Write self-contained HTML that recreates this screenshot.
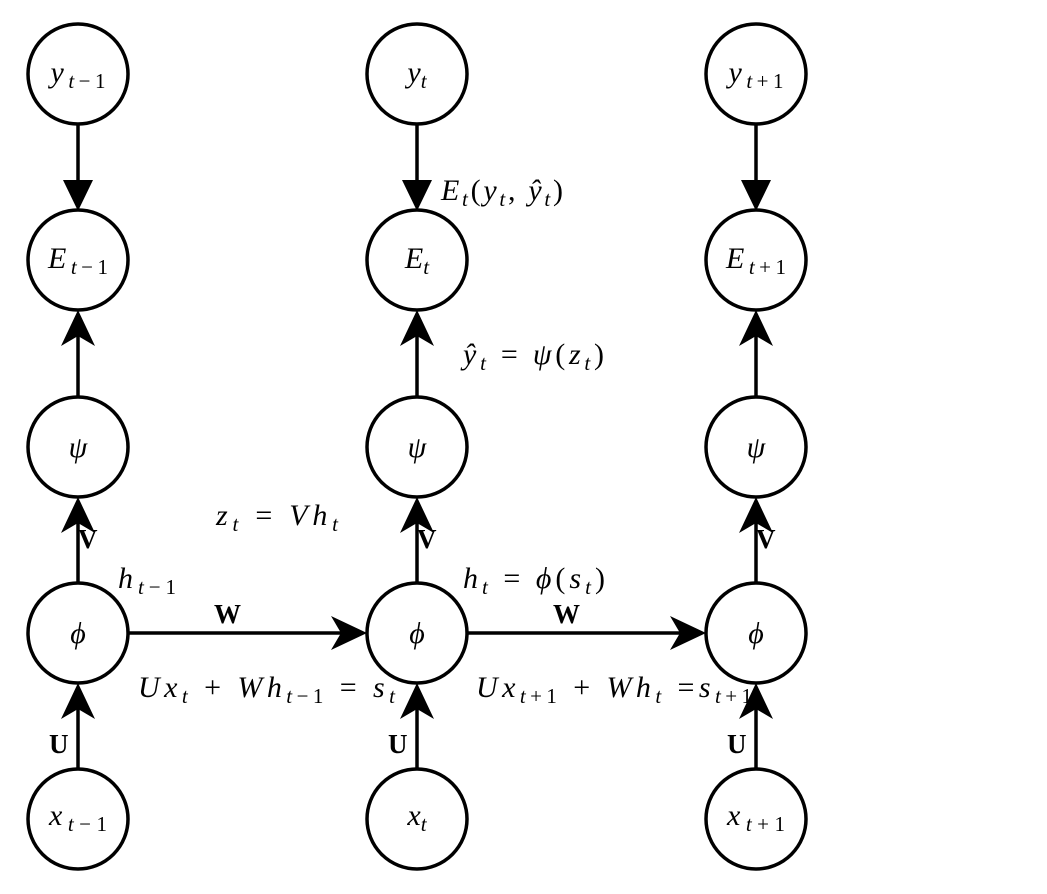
<!DOCTYPE html>
<html><head><meta charset="utf-8"><style>
html,body{margin:0;padding:0;background:#fff;}
svg{display:block}
text{font-family:"Liberation Serif",serif;fill:#000}
.i{font-style:italic}
.b{font-weight:bold}
</style></head><body>
<svg width="1047" height="894" viewBox="0 0 1047 894" xmlns="http://www.w3.org/2000/svg">
<g stroke="#000" stroke-width="3.5" fill="none">
<line x1="78" y1="124" x2="78" y2="190"/><line x1="417" y1="124" x2="417" y2="190"/><line x1="756" y1="124" x2="756" y2="190"/>
<line x1="78" y1="397" x2="78" y2="330"/><line x1="417" y1="397" x2="417" y2="330"/><line x1="756" y1="397" x2="756" y2="330"/>
<line x1="78" y1="583" x2="78" y2="515"/><line x1="417" y1="583" x2="417" y2="515"/><line x1="756" y1="583" x2="756" y2="515"/>
<line x1="78" y1="769" x2="78" y2="700"/><line x1="417" y1="769" x2="417" y2="700"/><line x1="756" y1="769" x2="756" y2="700"/>
<line x1="128" y1="633" x2="350" y2="633"/><line x1="467" y1="633" x2="689" y2="633"/>
<circle cx="78" cy="74" r="50"/><circle cx="417" cy="74" r="50"/><circle cx="756" cy="74" r="50"/>
<circle cx="78" cy="260" r="50"/><circle cx="417" cy="260" r="50"/><circle cx="756" cy="260" r="50"/>
<circle cx="78" cy="447" r="50"/><circle cx="417" cy="447" r="50"/><circle cx="756" cy="447" r="50"/>
<circle cx="78" cy="633" r="50"/><circle cx="417" cy="633" r="50"/><circle cx="756" cy="633" r="50"/>
<circle cx="78" cy="819" r="50"/><circle cx="417" cy="819" r="50"/><circle cx="756" cy="819" r="50"/>
</g>
<g fill="#000">
<path d="M78,211 L63,180 L93,180 Z"/><path d="M417,211 L402,180 L432,180 Z"/><path d="M756,211 L741,180 L771,180 Z"/>
<path d="M78,310 L95,346 L78,336 L61,346 Z"/><path d="M417,310 L434,346 L417,336 L400,346 Z"/><path d="M756,310 L773,346 L756,336 L739,346 Z"/>
<path d="M78,497 L95,533 L78,523 L61,533 Z"/><path d="M417,497 L434,533 L417,523 L400,533 Z"/><path d="M756,497 L773,533 L756,523 L739,533 Z"/>
<path d="M78,683 L95,719 L78,709 L61,719 Z"/><path d="M417,683 L434,719 L417,709 L400,719 Z"/><path d="M756,683 L773,719 L756,709 L739,719 Z"/>
<path d="M367,633 L331,616 L341,633 L331,650 Z"/><path d="M706,633 L670,616 L680,633 L670,650 Z"/>
</g>
<g font-size="30" text-anchor="middle">
<text x="78" y="82" textLength="55"><tspan class="i">y</tspan><tspan font-size="21" dy="6" class="i">t</tspan><tspan font-size="21">−1</tspan></text>
<text x="417" y="82"><tspan class="i">y</tspan><tspan font-size="21" dy="6" class="i">t</tspan></text>
<text x="756" y="82" textLength="55"><tspan class="i">y</tspan><tspan font-size="21" dy="6" class="i">t</tspan><tspan font-size="21">+1</tspan></text>
<text x="78" y="268" textLength="60"><tspan class="i">E</tspan><tspan font-size="21" dy="6" class="i">t</tspan><tspan font-size="21">−1</tspan></text>
<text x="417" y="268"><tspan class="i">E</tspan><tspan font-size="21" dy="6" class="i">t</tspan></text>
<text x="756" y="268" textLength="60"><tspan class="i">E</tspan><tspan font-size="21" dy="6" class="i">t</tspan><tspan font-size="21">+1</tspan></text>
<text x="78" y="457" class="i">ψ</text><text x="417" y="457" class="i">ψ</text><text x="756" y="457" class="i">ψ</text>
<text x="78" y="643" class="i">ϕ</text><text x="417" y="643" class="i">ϕ</text><text x="756" y="643" class="i">ϕ</text>
<text x="78" y="825" textLength="58"><tspan class="i">x</tspan><tspan font-size="21" dy="6" class="i">t</tspan><tspan font-size="21">−1</tspan></text>
<text x="417" y="825"><tspan class="i">x</tspan><tspan font-size="21" dy="6" class="i">t</tspan></text>
<text x="756" y="825" textLength="58"><tspan class="i">x</tspan><tspan font-size="21" dy="6" class="i">t</tspan><tspan font-size="21">+1</tspan></text>
</g>
<g font-size="30">
<text x="441" y="200" textLength="122"><tspan class="i">E</tspan><tspan font-size="21" dy="6" class="i">t</tspan><tspan dy="-6">(</tspan><tspan class="i">y</tspan><tspan font-size="21" dy="6" class="i">t</tspan><tspan dy="-6">, </tspan><tspan class="i">ŷ</tspan><tspan font-size="21" dy="6" class="i">t</tspan><tspan dy="-6">)</tspan></text>
<text x="463" y="364" textLength="141"><tspan class="i">ŷ</tspan><tspan font-size="21" dy="6" class="i">t</tspan><tspan dy="-6"> = </tspan><tspan class="i">ψ</tspan>(<tspan class="i">z</tspan><tspan font-size="21" dy="6" class="i">t</tspan><tspan dy="-6">)</tspan></text>
<text x="216" y="525" textLength="122"><tspan class="i">z</tspan><tspan font-size="21" dy="6" class="i">t</tspan><tspan dy="-6"> = </tspan><tspan class="i">Vh</tspan><tspan font-size="21" dy="6" class="i">t</tspan></text>
<text x="118" y="588" textLength="58"><tspan class="i">h</tspan><tspan font-size="21" dy="6" class="i">t</tspan><tspan font-size="21">−1</tspan></text>
<text x="463" y="588" textLength="142"><tspan class="i">h</tspan><tspan font-size="21" dy="6" class="i">t</tspan><tspan dy="-6"> = </tspan><tspan class="i">ϕ</tspan>(<tspan class="i">s</tspan><tspan font-size="21" dy="6" class="i">t</tspan><tspan dy="-6">)</tspan></text>
<text x="138" y="697" textLength="257"><tspan class="i">Ux</tspan><tspan font-size="21" dy="6" class="i">t</tspan><tspan dy="-6"> + </tspan><tspan class="i">Wh</tspan><tspan font-size="21" dy="6" class="i">t</tspan><tspan font-size="21">−1</tspan><tspan dy="-6"> = </tspan><tspan class="i">s</tspan><tspan font-size="21" dy="6" class="i">t</tspan></text>
<text x="476" y="697" textLength="276"><tspan class="i">Ux</tspan><tspan font-size="21" dy="6" class="i">t</tspan><tspan font-size="21">+1</tspan><tspan dy="-6"> + </tspan><tspan class="i">Wh</tspan><tspan font-size="21" dy="6" class="i">t</tspan><tspan dy="-6"> =</tspan><tspan class="i">s</tspan><tspan font-size="21" dy="6" class="i">t</tspan><tspan font-size="21">+1</tspan></text>
</g>
<g font-size="27" font-weight="bold">
<text x="78" y="548">V</text><text x="417" y="548">V</text><text x="756" y="548">V</text>
<text x="214" y="623">W</text><text x="553" y="623">W</text>
<text x="49" y="753">U</text><text x="388" y="753">U</text><text x="727" y="753">U</text>
</g>
</svg>
</body></html>
